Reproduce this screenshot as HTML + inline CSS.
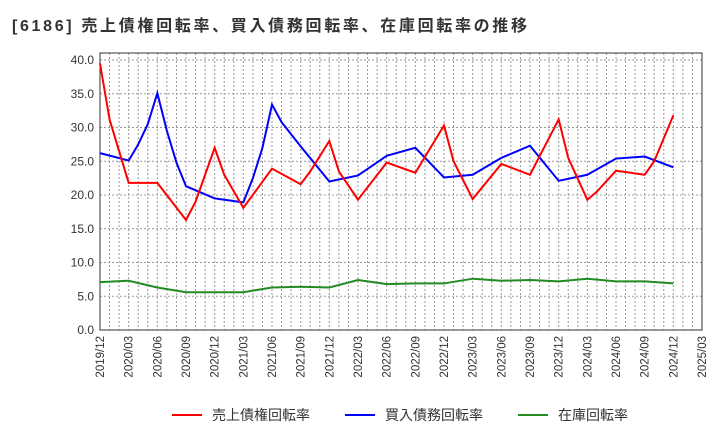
<!DOCTYPE html>
<html><head><meta charset="utf-8"><style>
body{margin:0;background:#fff;font-family:"Liberation Sans","Noto Sans CJK JP",sans-serif;}
</style></head><body>
<svg id="c" width="720" height="440" xmlns="http://www.w3.org/2000/svg" style="font-family:'Liberation Sans','Noto Sans CJK JP',sans-serif">
<text x="12" y="31" font-size="16" font-weight="bold" fill="#333" textLength="515" lengthAdjust="spacing">[6186]  売上債権回転率、買入債務回転率、在庫回転率の推移</text>
<g id="grid"></g><g id="axes"></g><g id="series"></g>
<g font-size="14" fill="#333">
<line x1="172" y1="415" x2="202" y2="415" stroke="#f00" stroke-width="2"/><text x="212" y="420">売上債権回転率</text>
<line x1="345" y1="415" x2="375" y2="415" stroke="#00f" stroke-width="2"/><text x="385" y="420">買入債務回転率</text>
<line x1="518" y1="415" x2="548" y2="415" stroke="#228b22" stroke-width="2"/><text x="558" y="420">在庫回転率</text>
</g>
</svg>
<script>
const xLabels=["2019/12","2020/03","2020/06","2020/09","2020/12","2021/03","2021/06","2021/09","2021/12","2022/03","2022/06","2022/09","2022/12","2023/03","2023/06","2023/09","2023/12","2024/03","2024/06","2024/09","2024/12","2025/03"];
const yTicks=[0,5,10,15,20,25,30,35,40];
const redMonths=[0,1,3,6,9,10,12,13,15,18,21,22,24,25,27,30,33,36,37,39,42,45,48,49,51,52,54,57,58,60];
const redValues=[39.5,31.2,21.8,21.8,16.3,19,27,23,18.1,23.9,21.6,23.5,28,23.5,19.3,24.8,23.3,30.3,25,19.4,24.6,23,31.2,25.5,19.3,20.5,23.6,23,25,31.8];
const blueMonths=[0,3,4,5,6,7,8,9,12,15,16,17,18,19,21,24,27,30,33,36,39,42,45,48,51,54,57,60];
const blueValues=[26.2,25.1,27.5,30.5,35.1,29.5,24.8,21.3,19.5,18.9,22.5,27,33.4,30.8,27.2,22,22.9,25.8,27,22.6,23,25.5,27.3,22.1,23,25.4,25.7,24.1];
const greenMonths=[0,3,6,9,12,15,18,21,24,27,30,33,36,39,42,45,48,51,54,57,60];
const greenValues=[7.1,7.3,6.3,5.6,5.6,5.6,6.3,6.4,6.3,7.4,6.8,6.9,6.9,7.6,7.3,7.4,7.2,7.6,7.2,7.2,6.9];
const X0=100,X1=702,Y0=330,Ytop=53;
const xs=m=>X0+m*(X1-X0)/63;
const ys=v=>Y0-v*6.75;
const NS="http://www.w3.org/2000/svg";
function mk(t,a,p){const e=document.createElementNS(NS,t);for(const k in a)e.setAttribute(k,a[k]);p.appendChild(e);return e;}
const grid=document.getElementById('grid'),axes=document.getElementById('axes'),ser=document.getElementById('series');
for(let m=1;m<63;m++){const l=mk('line',{x1:xs(m),x2:xs(m),y1:Ytop,y2:Y0,stroke:'#999','stroke-width':1,'stroke-dasharray':'2,2'},grid);

}
yTicks.forEach(v=>{if(v>0){const l=mk('line',{x1:X0,x2:X1,y1:ys(v),y2:ys(v),stroke:'#999','stroke-width':1,'stroke-dasharray':'2,2'},grid);

}
const t=mk('text',{x:X0-6,y:ys(v)+4,'text-anchor':'end','font-size':12,fill:'#333'},axes);t.textContent=v.toFixed(1);

});
xLabels.forEach((s,i)=>{const x=xs(i*3);const t=mk('text',{transform:`translate(${x+4},${Y0+6}) rotate(-90)`,'text-anchor':'end','font-size':11.5,fill:'#333'},axes);t.textContent=s;

});
const fr=mk('rect',{x:X0,y:Ytop,width:X1-X0,height:Y0-Ytop,fill:'none',stroke:'#333','stroke-width':1},axes);


function line(ms,vs,c,n){const p=mk('polyline',{points:ms.map((m,i)=>xs(m)+','+ys(vs[i])).join(' '),fill:'none',stroke:c,'stroke-width':2},ser);

}
line(greenMonths,greenValues,'#228b22','inventory-turnover-line');
line(blueMonths,blueValues,'#00f','payables-turnover-line');
line(redMonths,redValues,'#f00','receivables-turnover-line');
</script>
</body></html>
